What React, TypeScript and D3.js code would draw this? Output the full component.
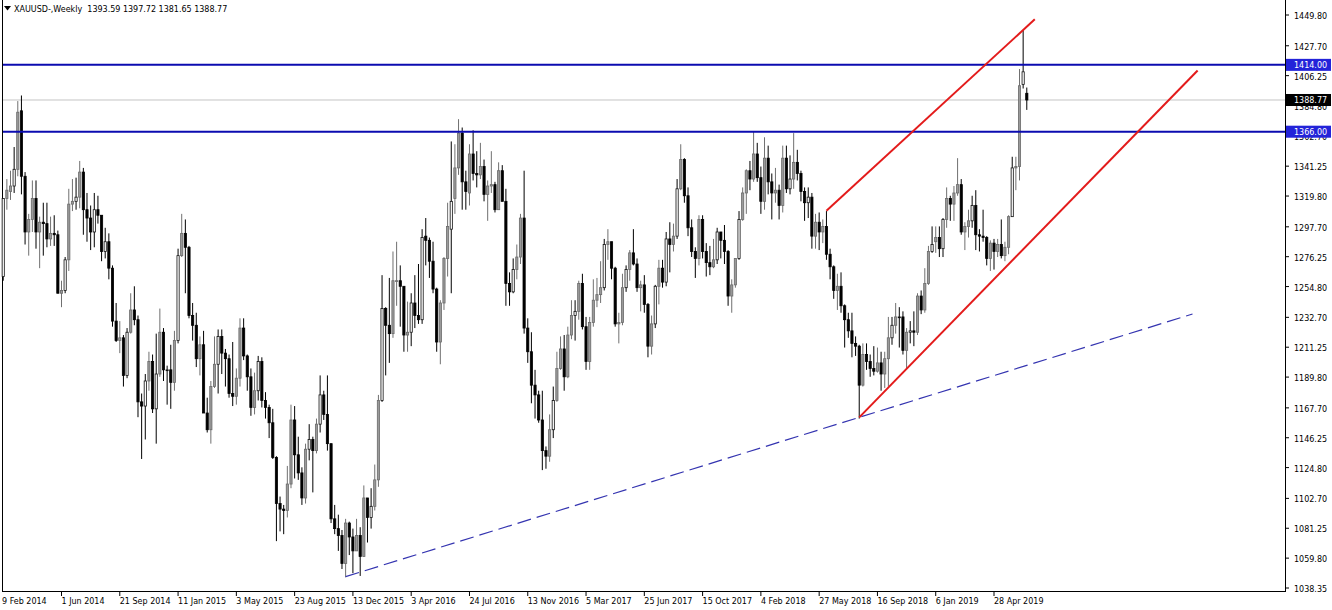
import React from "react";
import * as d3 from "d3";

// Weekly XAUUSD candles [open, high, low, close], weeks starting Sunday 9 Feb 2014
const ohlc2014: number[][] = [
  [1262, 1318, 1259, 1318], [1318, 1332, 1310, 1324], [1323, 1338, 1317, 1327], [1327, 1355, 1322, 1339],
  [1339, 1388, 1334, 1380], [1381, 1392, 1321, 1334], [1334, 1337, 1285, 1294], [1294, 1307, 1277, 1303],
  [1303, 1331, 1294, 1318], [1318, 1331, 1282, 1294], [1294, 1305, 1268, 1301], [1301, 1315, 1277, 1300],
  [1300, 1315, 1283, 1289], [1289, 1305, 1284, 1293], [1293, 1306, 1284, 1292], [1292, 1295, 1250, 1250],
  [1250, 1259, 1240, 1252], [1252, 1276, 1250, 1274], [1274, 1325, 1266, 1314], [1314, 1332, 1309, 1316],
  [1316, 1333, 1310, 1319], [1319, 1345, 1311, 1337], [1337, 1340, 1292, 1310], [1310, 1322, 1287, 1304],
  [1304, 1313, 1281, 1294], [1294, 1322, 1283, 1310], [1310, 1320, 1300, 1306], [1306, 1306, 1273, 1280],
  [1280, 1297, 1275, 1287], [1287, 1293, 1260, 1268], [1268, 1270, 1226, 1230], [1230, 1243, 1215, 1216],
  [1216, 1230, 1207, 1218], [1218, 1220, 1183, 1191], [1191, 1225, 1189, 1222], [1222, 1250, 1221, 1238],
  [1238, 1255, 1227, 1231], [1231, 1234, 1161, 1172], [1172, 1178, 1131, 1169], [1169, 1192, 1145, 1187],
  [1187, 1208, 1180, 1201], [1201, 1206, 1164, 1167], [1167, 1221, 1142, 1192], [1192, 1239, 1190, 1222],
  [1222, 1225, 1187, 1195], [1195, 1198, 1170, 1195], [1195, 1213, 1167, 1186],
];
const ohlc2015: number[][] = [
  [1186, 1223, 1180, 1216], [1216, 1282, 1214, 1277], [1277, 1307, 1276, 1293], [1293, 1303, 1250, 1283],
  [1283, 1284, 1232, 1234], [1234, 1243, 1216, 1227], [1227, 1236, 1197, 1203], [1203, 1219, 1191, 1213],
  [1213, 1223, 1164, 1164], [1164, 1175, 1150, 1152], [1152, 1187, 1142, 1183], [1183, 1219, 1182, 1199],
  [1199, 1224, 1178, 1219], [1219, 1224, 1192, 1207], [1207, 1210, 1183, 1203], [1203, 1206, 1175, 1178],
  [1178, 1215, 1169, 1176], [1176, 1196, 1170, 1189], [1189, 1232, 1183, 1225], [1225, 1232, 1202, 1205],
  [1205, 1206, 1180, 1190], [1190, 1196, 1162, 1168], [1168, 1193, 1163, 1180], [1180, 1205, 1173, 1201],
  [1201, 1204, 1168, 1173], [1173, 1179, 1160, 1168], [1168, 1170, 1146, 1157], [1157, 1167, 1131, 1132],
  [1132, 1133, 1072, 1099], [1099, 1104, 1079, 1095], [1095, 1098, 1077, 1094], [1094, 1126, 1089, 1113],
  [1113, 1170, 1110, 1159], [1159, 1169, 1117, 1134], [1134, 1147, 1116, 1121], [1121, 1125, 1098, 1103],
  [1103, 1142, 1099, 1138], [1138, 1156, 1130, 1145], [1145, 1147, 1107, 1137], [1137, 1160, 1135, 1156],
  [1156, 1191, 1150, 1177], [1177, 1180, 1159, 1163], [1163, 1191, 1137, 1142], [1142, 1142, 1085, 1088],
  [1088, 1098, 1077, 1081], [1081, 1091, 1065, 1076], [1076, 1080, 1052, 1056], [1056, 1088, 1046, 1085],
  [1085, 1086, 1062, 1075], [1075, 1081, 1049, 1065], [1065, 1088, 1065, 1076], [1076, 1082, 1047, 1061],
];
const ohlc2016: number[][] = [
  [1061, 1112, 1061, 1103], [1103, 1103, 1071, 1089], [1089, 1110, 1081, 1097], [1097, 1127, 1094, 1116],
  [1116, 1177, 1111, 1173], [1173, 1263, 1172, 1239], [1239, 1240, 1191, 1227], [1227, 1261, 1200, 1221],
  [1221, 1280, 1218, 1259], [1259, 1287, 1241, 1259], [1259, 1270, 1226, 1255], [1255, 1255, 1208, 1220],
  [1220, 1244, 1208, 1222], [1222, 1250, 1212, 1243], [1243, 1263, 1225, 1234], [1234, 1271, 1228, 1231],
  [1231, 1296, 1228, 1290], [1291, 1304, 1270, 1288], [1288, 1290, 1261, 1273], [1273, 1287, 1250, 1253],
  [1253, 1254, 1208, 1215], [1215, 1245, 1199, 1243], [1243, 1276, 1238, 1275], [1275, 1315, 1262, 1298],
  [1296, 1359, 1250, 1316], [1318, 1357, 1307, 1340], [1340, 1375, 1335, 1365], [1365, 1369, 1310, 1330],
  [1330, 1338, 1310, 1323], [1322, 1357, 1313, 1350], [1350, 1367, 1331, 1336], [1336, 1352, 1326, 1335],
  [1335, 1358, 1332, 1341], [1341, 1346, 1316, 1321], [1321, 1331, 1302, 1327], [1327, 1352, 1322, 1328],
  [1328, 1330, 1308, 1310], [1310, 1344, 1310, 1338], [1338, 1342, 1316, 1316], [1316, 1325, 1241, 1257],
  [1257, 1265, 1241, 1251], [1251, 1275, 1250, 1267], [1267, 1285, 1260, 1276], [1276, 1307, 1271, 1304],
  [1304, 1338, 1221, 1225], [1225, 1232, 1200, 1208], [1208, 1222, 1171, 1184], [1184, 1195, 1160, 1177],
  [1177, 1180, 1157, 1159], [1159, 1180, 1123, 1137], [1137, 1140, 1124, 1133], [1133, 1163, 1129, 1152],
];
const ohlc2017: number[][] = [
  [1152, 1183, 1146, 1173], [1173, 1208, 1172, 1196], [1196, 1219, 1195, 1210], [1210, 1220, 1180, 1190],
  [1190, 1226, 1189, 1220], [1220, 1245, 1217, 1234], [1234, 1245, 1216, 1237], [1237, 1259, 1231, 1257],
  [1257, 1264, 1224, 1226], [1226, 1233, 1195, 1201], [1201, 1233, 1195, 1229], [1229, 1260, 1226, 1245],
  [1245, 1261, 1240, 1249], [1249, 1273, 1243, 1254], [1254, 1289, 1252, 1285], [1285, 1296, 1274, 1287],
  [1287, 1287, 1260, 1268], [1268, 1269, 1226, 1228], [1228, 1236, 1214, 1229], [1229, 1264, 1227, 1254],
  [1254, 1270, 1251, 1267], [1267, 1281, 1259, 1279], [1279, 1296, 1270, 1271], [1271, 1275, 1251, 1254],
  [1254, 1259, 1237, 1256], [1256, 1263, 1236, 1242], [1242, 1243, 1204, 1212], [1212, 1234, 1206, 1228],
  [1228, 1256, 1225, 1255], [1255, 1274, 1242, 1268], [1268, 1274, 1254, 1258], [1258, 1294, 1255, 1289],
  [1289, 1301, 1265, 1285], [1285, 1300, 1280, 1291], [1291, 1332, 1289, 1325], [1325, 1357, 1324, 1346],
  [1346, 1347, 1315, 1320], [1320, 1326, 1291, 1297], [1297, 1303, 1276, 1280], [1280, 1283, 1261, 1275],
  [1275, 1306, 1270, 1303], [1303, 1306, 1275, 1280], [1280, 1286, 1262, 1272], [1272, 1284, 1263, 1269],
  [1269, 1289, 1268, 1274], [1274, 1297, 1271, 1294], [1294, 1294, 1275, 1288], [1288, 1299, 1271, 1280],
  [1280, 1281, 1241, 1248], [1248, 1260, 1236, 1256], [1256, 1275, 1254, 1275], [1275, 1309, 1274, 1303],
  [1303, 1326, 1302, 1322],
];
const ohlc2018: number[][] = [
  [1322, 1339, 1307, 1338], [1338, 1345, 1324, 1332], [1332, 1366, 1330, 1350], [1350, 1358, 1330, 1333],
  [1333, 1341, 1307, 1316], [1316, 1362, 1310, 1347], [1347, 1356, 1321, 1330], [1330, 1336, 1303, 1322],
  [1322, 1340, 1315, 1324], [1324, 1328, 1303, 1313], [1313, 1356, 1308, 1347], [1347, 1356, 1322, 1325],
  [1325, 1349, 1321, 1332], [1332, 1365, 1325, 1344], [1344, 1353, 1331, 1336], [1336, 1338, 1316, 1323],
  [1323, 1326, 1302, 1315], [1315, 1326, 1304, 1319], [1319, 1322, 1282, 1291], [1291, 1307, 1282, 1301],
  [1301, 1308, 1281, 1294], [1294, 1303, 1286, 1298], [1298, 1309, 1274, 1278], [1278, 1282, 1260, 1269],
  [1269, 1270, 1246, 1252], [1252, 1264, 1238, 1255], [1255, 1265, 1236, 1241], [1241, 1242, 1211, 1231],
  [1231, 1236, 1218, 1223], [1223, 1236, 1204, 1214], [1214, 1219, 1205, 1212], [1212, 1213, 1160, 1184],
  [1184, 1214, 1183, 1206], [1206, 1214, 1195, 1201], [1201, 1206, 1190, 1196], [1196, 1212, 1191, 1194],
  [1194, 1211, 1193, 1200], [1200, 1208, 1180, 1192], [1192, 1208, 1182, 1203], [1203, 1233, 1183, 1218],
  [1218, 1233, 1213, 1227], [1227, 1243, 1221, 1233], [1233, 1240, 1211, 1233], [1233, 1237, 1206, 1209],
  [1209, 1225, 1196, 1222], [1222, 1230, 1214, 1223], [1223, 1237, 1212, 1222], [1222, 1250, 1220, 1248],
  [1248, 1252, 1235, 1238], [1238, 1268, 1236, 1257], [1257, 1284, 1256, 1280], [1280, 1298, 1279, 1285],
];
const ohlc2019: number[][] = [
  [1287, 1298, 1279, 1290], [1290, 1298, 1276, 1282], [1282, 1304, 1276, 1303], [1303, 1326, 1297, 1318],
  [1318, 1320, 1302, 1314], [1314, 1327, 1302, 1322], [1322, 1347, 1320, 1328], [1328, 1332, 1292, 1294],
  [1294, 1301, 1281, 1298], [1298, 1310, 1290, 1302], [1302, 1320, 1297, 1313], [1313, 1324, 1281, 1292],
  [1292, 1296, 1280, 1291], [1291, 1310, 1287, 1290], [1290, 1291, 1270, 1275], [1275, 1288, 1266, 1286],
  [1286, 1289, 1267, 1280], [1280, 1289, 1276, 1285], [1285, 1303, 1275, 1277], [1277, 1287, 1273, 1283],
  [1283, 1306, 1278, 1305], [1305, 1348, 1305, 1340], [1340, 1348, 1324, 1341], [1341, 1411, 1331, 1399],
  [1400, 1439, 1397, 1409], [1393.59, 1397.72, 1381.65, 1388.77],
];

const xTickLabels = [
  "9 Feb 2014", "1 Jun 2014", "21 Sep 2014", "11 Jan 2015", "3 May 2015", "23 Aug 2015",
  "13 Dec 2015", "3 Apr 2016", "24 Jul 2016", "13 Nov 2016", "5 Mar 2017", "25 Jun 2017",
  "15 Oct 2017", "4 Feb 2018", "27 May 2018", "16 Sep 2018", "6 Jan 2019", "28 Apr 2019",
];
const xTickEvery = 16;

const yTickValues = [
  1449.8, 1427.7, 1406.25, 1384.8, 1362.7, 1341.25, 1319.8, 1297.7, 1276.25, 1254.8,
  1232.7, 1211.25, 1189.8, 1167.7, 1146.25, 1124.8, 1102.7, 1081.25, 1059.8, 1038.35,
];

const levels = [1414.0, 1366.0];
const bidPrice = 1388.77;
const title = "XAUUSD-,Weekly  1393.59 1397.72 1381.65 1388.77";

// trendlines as [bar index, price]
const upperChannel = [[226, 1309.3], [283.2, 1446.7]];
const lowerChannel = [[235, 1160.9], [327.9, 1410.0]];
const baseTrend = [[94, 1046.5], [326.5, 1235.1]];

const bars = [...ohlc2014, ...ohlc2015, ...ohlc2016, ...ohlc2017, ...ohlc2018, ...ohlc2019].map(
  ([o, h, l, c], i) => ({ i, o, h, l, c })
);

const W = 1332;
const H = 610;
const axisX = 1285;
const axisY = 591;
const FONT = "'DejaVu Sans', Tahoma, sans-serif";

export default function App() {
  const xs = d3.scaleLinear().domain([0, 281]).range([3.22, 3.22 + 281 * 3.6426]);
  const ys = d3.scaleLinear().domain([1038.35, 1449.8]).range([588, 15]);
  const line = d3
    .line<number[]>()
    .x((d) => xs(d[0]))
    .y((d) => ys(d[1]));
  const bw = 2.2;

  return (
    <svg
      width={W}
      height={H}
      style={{ position: "absolute", left: 0, top: 0, background: "#fff", display: "block" }}
    >
      <rect x={0} y={0} width={W} height={H} fill="#fff" />
      {/* frame */}
      <line x1={2.5} y1={0} x2={2.5} y2={axisY} stroke="#000" strokeWidth={1} />
      <line x1={2} y1={axisY + 0.5} x2={axisX} y2={axisY + 0.5} stroke="#000" strokeWidth={1} />
      <line x1={axisX + 0.5} y1={0} x2={axisX + 0.5} y2={axisY + 1} stroke="#000" strokeWidth={1} />

      {/* bid line */}
      <line x1={3} x2={axisX} y1={ys(bidPrice)} y2={ys(bidPrice)} stroke="#c4c4c4" strokeWidth={1} />

      {/* candles */}
      <g>
        {bars.map((b) => {
          const x = xs(b.i);
          const top = ys(Math.max(b.o, b.c));
          const bot = ys(Math.min(b.o, b.c));
          const bull = b.c >= b.o;
          const frac = x - Math.floor(x);
          const hollow = bull && frac < 0.3;
          const fill = bull ? (hollow ? "#fff" : "#9a9a9a") : "#000";
          const stroke = bull ? (hollow ? "#111" : "#6a6a6a") : "#000";
          return (
            <g key={b.i}>
              <line
                x1={x}
                x2={x}
                y1={ys(b.h)}
                y2={ys(b.l)}
                stroke={bull && !hollow ? "#707070" : "#000"}
                strokeWidth={1}
              />
              <rect
                x={x - bw / 2}
                y={top}
                width={bw}
                height={Math.max(bot - top, 0.8)}
                fill={fill}
                stroke={stroke}
                strokeWidth={0.8}
              />
            </g>
          );
        })}
      </g>

      {/* horizontal levels */}
      {levels.map((v) => (
        <line key={v} x1={3} x2={axisX} y1={ys(v)} y2={ys(v)} stroke="#0b0bb0" strokeWidth={2} />
      ))}

      {/* trend lines */}
      <path d={line(baseTrend as number[][]) || ""} stroke="#3434b0" strokeWidth={1.2} fill="none" strokeDasharray="14 6" />
      <path d={line(upperChannel as number[][]) || ""} stroke="#e31b1b" strokeWidth={2} fill="none" />
      <path d={line(lowerChannel as number[][]) || ""} stroke="#e31b1b" strokeWidth={2} fill="none" />

      {/* price axis */}
      <g fontFamily={FONT} fontSize={8} fill="#000">
        {yTickValues.map((v) => (
          <g key={v}>
            <line x1={axisX} x2={axisX + 4} y1={ys(v)} y2={ys(v)} stroke="#000" strokeWidth={1} />
            <text x={axisX + 9} y={ys(v) + 1.5} dominantBaseline="central">
              {v.toFixed(2)}
            </text>
          </g>
        ))}
      </g>
      {/* level labels */}
      {levels.map((v) => (
        <g key={"lab" + v}>
          <rect x={axisX + 1} y={ys(v) - 6} width={45} height={12} fill="#2323d9" />
          <text
            x={axisX + 9}
            y={ys(v) + 0.5}
            dominantBaseline="central"
            fontFamily={FONT}
            fontSize={8}
            fill="#fff"
          >
            {v.toFixed(2)}
          </text>
        </g>
      ))}
      <g>
        <rect x={axisX + 1} y={ys(bidPrice) - 6} width={45} height={12} fill="#000" />
        <text
          x={axisX + 9}
          y={ys(bidPrice) + 0.5}
          dominantBaseline="central"
          fontFamily={FONT}
          fontSize={8}
          fill="#fff"
        >
          {bidPrice.toFixed(2)}
        </text>
      </g>

      {/* time axis */}
      <g fontFamily={FONT} fontSize={8} fill="#000">
        {xTickLabels.map((lab, k) => {
          const x = xs(k * xTickEvery);
          return (
            <g key={lab}>
              {k > 0 && <line x1={x} x2={x} y1={axisY} y2={axisY + 5} stroke="#000" strokeWidth={1} />}
              <text x={k === 0 ? 2 : x} y={604}>
                {lab}
              </text>
            </g>
          );
        })}
      </g>

      {/* title */}
      <path d="M4,6 L11,6 L7.5,10.5 Z" fill="#000" />
      <text x={14} y={12} fontFamily={FONT} fontSize={8} fill="#000" style={{ whiteSpace: "pre" }}>
        {title}
      </text>
    </svg>
  );
}
